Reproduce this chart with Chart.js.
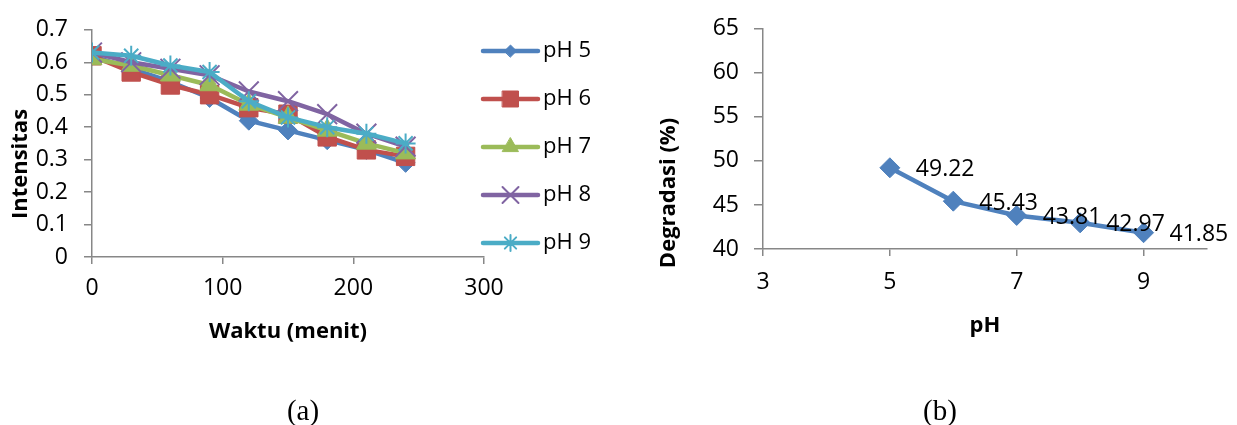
<!DOCTYPE html>
<html><head><meta charset="utf-8">
<script src="https://cdn.jsdelivr.net/npm/chart.js@4.4.1/dist/chart.umd.min.js"></script>
<style>
html,body{margin:0;padding:0;background:#fff;width:1237px;height:425px;overflow:hidden;}
#wrapA{position:absolute;left:0;top:0;width:640px;height:425px;}
#wrapB{position:absolute;left:640px;top:0;width:597px;height:425px;}
.cap{position:absolute;font-family:"Liberation Serif","Times New Roman",serif;font-size:29px;color:#000;transform:translate(-50%,-50%);line-height:1;}
</style></head><body>
<div id="wrapA"><canvas id="cA" width="640" height="425"></canvas></div>
<div id="wrapB"><canvas id="cB" width="597" height="425"></canvas></div>
<div class="cap" style="left:303px;top:410px">(a)</div>
<div class="cap" style="left:940px;top:410px">(b)</div>
<script>
// ---------- data ----------
const times = [0, 30, 60, 90, 120, 150, 180, 210, 240];
const seriesNames = ['pH 5', 'pH 6', 'pH 7', 'pH 8', 'pH 9'];
const pH5 = [0.62, 0.58, 0.54, 0.49, 0.42, 0.39, 0.36, 0.33, 0.29];
const pH6 = [0.62, 0.57, 0.53, 0.50, 0.46, 0.44, 0.37, 0.33, 0.31];
const pH7 = [0.61, 0.59, 0.56, 0.53, 0.47, 0.43, 0.39, 0.35, 0.32];
const pH8 = [0.63, 0.60, 0.58, 0.56, 0.51, 0.48, 0.44, 0.38, 0.34];
const pH9 = [0.63, 0.62, 0.59, 0.57, 0.48, 0.43, 0.40, 0.38, 0.35];
const timeTicks = [0, 100, 200, 300];
const intensityTicks = [0, 0.1, 0.2, 0.3, 0.4, 0.5, 0.6, 0.7];
const intensityTickLabels = ['0', '0.1', '0.2', '0.3', '0.4', '0.5', '0.6', '0.7'];

const phValues = [5, 6, 7, 8, 9];
const degradasi = [49.22, 45.43, 43.81, 42.97, 41.85];
const phTicks = [3, 5, 7, 9];
const degradasiTicks = [40, 45, 50, 55, 60, 65];

// ---------- styles ----------
const FONT = '"Open Sans", "Noto Sans", sans-serif';
const AXIS = '#878787';
const seriesValues = [pH5, pH6, pH7, pH8, pH9];
const seriesStyles = [
  {color: '#4F81BD', pointStyle: 'rectRot',  radius: 9.5,  legendRadius: 6,    bw: 1},
  {color: '#C0504D', pointStyle: 'rect',     radius: 13,   legendRadius: 11.3, bw: 1},
  {color: '#9BBB59', pointStyle: 'triangle', radius: 11.5, legendRadius: 9.2,  bw: 1},
  {color: '#8064A2', pointStyle: 'crossRot', radius: 14,   legendRadius: 11.3, bw: 2},
  {color: '#4BACC6', pointStyle: 'star',     radius: 10,   legendRadius: 8,    bw: 2}
];

const axisTitlePlugin = {
  id: 'axisTitles',
  afterDraw(chart, args, opts) {
    const ctx = chart.ctx;
    (opts.items || []).forEach(it => {
      ctx.save();
      ctx.font = 'bold 22px ' + FONT;
      ctx.fillStyle = '#000';
      ctx.textAlign = 'center';
      ctx.textBaseline = 'middle';
      ctx.translate(it.x, it.y);
      if (it.rotate) ctx.rotate(-Math.PI / 2);
      ctx.fillText(it.text, 0, 0);
      ctx.restore();
    });
  }
};

const legendPlugin = {
  id: 'sideLegend',
  afterDraw(chart, args, opts) {
    if (!opts.show) return;
    const ctx = chart.ctx;
    chart.data.datasets.forEach((ds, i) => {
      const st = seriesStyles[i];
      const y = opts.y0 + i * opts.dy;
      ctx.save();
      ctx.strokeStyle = st.color;
      ctx.lineWidth = 4.5;
      ctx.lineCap = 'round';
      ctx.beginPath();
      ctx.moveTo(opts.x0, y);
      ctx.lineTo(opts.x1, y);
      ctx.stroke();
      ctx.fillStyle = st.color;
      ctx.strokeStyle = st.color;
      ctx.lineWidth = st.bw;
      Chart.helpers.drawPoint(ctx, {pointStyle: st.pointStyle, radius: st.legendRadius, rotation: 0, borderWidth: st.bw}, (opts.x0 + opts.x1) / 2, y);
      ctx.fillStyle = '#000';
      ctx.font = '22px ' + FONT;
      ctx.textAlign = 'left';
      ctx.textBaseline = 'middle';
      ctx.fillText(ds.label, opts.textX, y);
      ctx.restore();
    });
  }
};

const dataLabelPlugin = {
  id: 'valueLabels',
  afterDatasetsDraw(chart, args, opts) {
    if (!opts.show) return;
    const ctx = chart.ctx;
    const meta = chart.getDatasetMeta(0);
    ctx.save();
    ctx.font = '23px ' + FONT;
    ctx.fillStyle = '#000';
    ctx.textAlign = 'left';
    ctx.textBaseline = 'middle';
    meta.data.forEach((pt, i) => {
      ctx.fillText(degradasi[i].toFixed(2), pt.x + opts.dx, pt.y + opts.dy);
    });
    ctx.restore();
  }
};

function axisCommon(tickLen, pad) {
  return {
    grid: {drawOnChartArea: false, drawTicks: true, tickLength: tickLen, color: AXIS, lineWidth: 1.5},
    border: {display: true, color: AXIS, width: 1.5},
    ticks: {font: {family: FONT, size: 23}, color: '#000', padding: pad, maxRotation: 0, autoSkip: false}
  };
}

// ---------- chart (a) ----------
const dsA = seriesValues.map((vals, i) => {
  const st = seriesStyles[i];
  return {
    label: seriesNames[i],
    data: times.map((t, j) => ({x: t, y: vals[j]})),
    borderColor: st.color,
    backgroundColor: st.color,
    borderWidth: 4.5,
    borderJoinStyle: 'round',
    borderCapStyle: 'round',
    pointStyle: st.pointStyle,
    pointRadius: st.radius,
    pointBorderWidth: st.bw,
    pointBackgroundColor: st.color,
    pointBorderColor: st.color,
    tension: 0,
    order: 4 - i
  };
});

const xA = axisCommon(7, 11);
const yA = axisCommon(8, 16);
new Chart(document.getElementById('cA'), {
  type: 'line',
  data: {datasets: dsA},
  options: {
    responsive: false, animation: false,
    layout: {padding: {left: 0, top: 23, right: 156, bottom: 118}},
    plugins: {
      legend: {display: false}, tooltip: {enabled: false},
      axisTitles: {items: [
        {text: 'Intensitas', x: 21, y: 164, rotate: true},
        {text: 'Waktu (menit)', x: 288, y: 332, rotate: false}
      ]},
      sideLegend: {show: true, x0: 483, x1: 538, textX: 543, y0: 51, dy: 48}
    },
    scales: {
      x: Object.assign({type: 'linear', min: 0, max: 300,
        afterBuildTicks: s => { s.ticks = timeTicks.map(v => ({value: v})); },
        afterFit: s => { s.height = 50; }}, xA),
      y: Object.assign({type: 'linear', min: 0, max: 0.7,
        afterBuildTicks: s => { s.ticks = intensityTicks.map(v => ({value: v})); },
        afterFit: s => { s.width = 92; }}, yA,
        {ticks: Object.assign({}, yA.ticks, {callback: (v, i) => intensityTickLabels[i]})})
    }
  },
  plugins: [axisTitlePlugin, legendPlugin]
});

// ---------- chart (b) ----------
const xB = axisCommon(7, 13);
const yB = axisCommon(9, 15);
new Chart(document.getElementById('cB'), {
  type: 'line',
  data: {datasets: [{
    label: 'Degradasi',
    data: phValues.map((p, j) => ({x: p, y: degradasi[j]})),
    borderColor: '#4F81BD', backgroundColor: '#4F81BD',
    borderWidth: 4.5, borderJoinStyle: 'round', borderCapStyle: 'round',
    pointStyle: 'rectRot', pointRadius: 10, pointBorderWidth: 1,
    pointBackgroundColor: '#4F81BD', pointBorderColor: '#4F81BD', tension: 0
  }]},
  options: {
    responsive: false, animation: false,
    layout: {padding: {left: 0, top: 25, right: 30, bottom: 126}},
    plugins: {
      legend: {display: false}, tooltip: {enabled: false},
      axisTitles: {items: [
        {text: 'Degradasi (%)', x: 29, y: 193, rotate: true},
        {text: 'pH', x: 345, y: 326, rotate: false}
      ]},
      valueLabels: {show: true, dx: 26, dy: 2}
    },
    scales: {
      x: Object.assign({type: 'linear', min: 3, max: 10,
        afterBuildTicks: s => { s.ticks = phTicks.map(v => ({value: v})); },
        afterFit: s => { s.height = 50; }}, xB),
      y: Object.assign({type: 'linear', min: 40, max: 65,
        afterBuildTicks: s => { s.ticks = degradasiTicks.map(v => ({value: v})); },
        afterFit: s => { s.width = 123; }}, yB)
    }
  },
  plugins: [axisTitlePlugin, dataLabelPlugin]
});
</script>
</body></html>
